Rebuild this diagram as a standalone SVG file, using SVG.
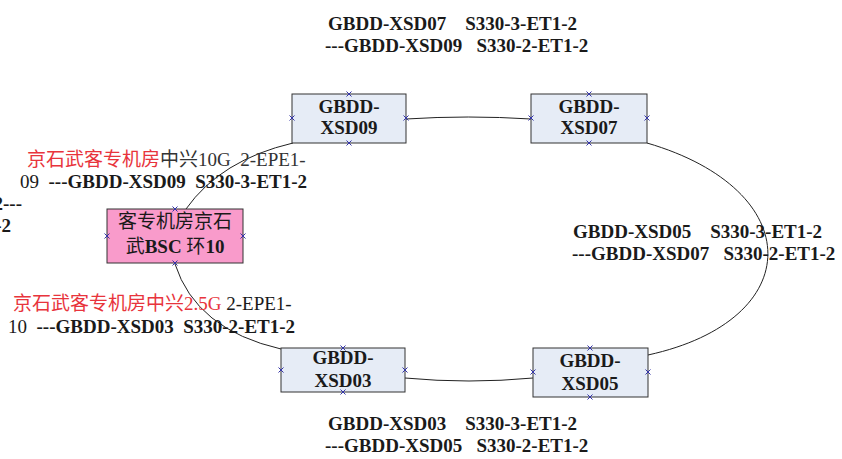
<svg xmlns="http://www.w3.org/2000/svg" xmlns:xlink="http://www.w3.org/1999/xlink" width="842" height="459" viewBox="0 0 842 459">
<style>
text{font-family:"Liberation Serif","Noto Sans CJK SC",serif;font-size:19px;fill:#1a1a1a}
.b{font-weight:bold}
.r{fill:#e8343c}
.box{fill:#e6ecf6;stroke:#333;stroke-width:1}
.pink{fill:#f99bcb;stroke:#333;stroke-width:1}
.nt{text-anchor:middle;font-weight:bold}
.conn{fill:none;stroke:#222;stroke-width:1}
</style>
<defs>
<path id="m" d="M-2.5,-2.5L2.5,2.5M-2.5,2.5L2.5,-2.5" stroke="#3434a8" stroke-width="1" fill="none"/>
</defs>
<rect width="842" height="459" fill="#fff"/>

<g id="connectors">
<path class="conn" d="M406,119 Q468,115 531,119"/>
<path class="conn" d="M647,143 C808,190 808,320 648,355"/>
<path class="conn" d="M405,378 Q469,384 533,378"/>
<path class="conn" d="M175,264 Q196,329.5 281,349"/>
<path class="conn" d="M186,209 Q220.5,160 293,143"/>
</g>

<g id="node-xsd09">
<rect class="box" x="292" y="94" width="114" height="49"/>
<text class="nt" x="349" y="113">GBDD-</text>
<text class="nt" x="349" y="134">XSD09</text>
<use xlink:href="#m" x="349" y="94"/><use xlink:href="#m" x="349" y="143"/><use xlink:href="#m" x="292" y="118"/><use xlink:href="#m" x="406" y="118"/>
</g>

<g id="node-xsd07">
<rect class="box" x="531" y="94" width="116" height="49"/>
<text class="nt" x="589" y="113">GBDD-</text>
<text class="nt" x="589" y="134">XSD07</text>
<use xlink:href="#m" x="589" y="94"/><use xlink:href="#m" x="589" y="143"/><use xlink:href="#m" x="531" y="118"/><use xlink:href="#m" x="647" y="118"/>
</g>

<g id="node-xsd03">
<rect class="box" x="281" y="348" width="124" height="44"/>
<text class="nt" x="343" y="364">GBDD-</text>
<text class="nt" x="343" y="387">XSD03</text>
<use xlink:href="#m" x="343" y="348"/><use xlink:href="#m" x="343" y="392"/><use xlink:href="#m" x="281" y="370"/><use xlink:href="#m" x="405" y="370"/>
</g>

<g id="node-xsd05">
<rect class="box" x="533" y="348" width="115" height="49"/>
<text class="nt" x="590" y="367">GBDD-</text>
<text class="nt" x="590" y="390">XSD05</text>
<use xlink:href="#m" x="590" y="348"/><use xlink:href="#m" x="590" y="397"/><use xlink:href="#m" x="533" y="372"/><use xlink:href="#m" x="648" y="372"/>
</g>

<g id="node-bsc">
<rect class="pink" x="107" y="209" width="136" height="54"/>
<text x="175" y="228" text-anchor="middle">客专机房京石</text>
<text x="175" y="253" text-anchor="middle" xml:space="preserve">武<tspan class="b">BSC </tspan>环<tspan class="b">10</tspan></text>
<use xlink:href="#m" x="175" y="209"/><use xlink:href="#m" x="175" y="263"/><use xlink:href="#m" x="107" y="236"/><use xlink:href="#m" x="243" y="236"/>
</g>

<g id="labels">
<text class="b" x="328" y="30" xml:space="preserve">GBDD-XSD07    S330-3-ET1-2</text>
<text class="b" x="325" y="52" xml:space="preserve">---GBDD-XSD09   S330-2-ET1-2</text>

<text class="b" x="573" y="238" xml:space="preserve">GBDD-XSD05    S330-3-ET1-2</text>
<text class="b" x="572" y="260" xml:space="preserve">---GBDD-XSD07   S330-2-ET1-2</text>

<text class="b" x="328" y="430" xml:space="preserve">GBDD-XSD03    S330-3-ET1-2</text>
<text class="b" x="325" y="452" xml:space="preserve">---GBDD-XSD05   S330-2-ET1-2</text>

<text x="27" y="166" xml:space="preserve"><tspan class="r">京石武客专机房</tspan><tspan fill="#333">中兴10G  2-EPE1-</tspan></text>
<text x="20" y="188" xml:space="preserve">09  <tspan class="b">---GBDD-XSD09  S330-3-ET1-2</tspan></text>

<text x="13" y="310" xml:space="preserve"><tspan class="r">京石武客专机房中兴2.5G</tspan> 2-EPE1-</text>
<text x="8" y="333" xml:space="preserve">10  <tspan class="b">---GBDD-XSD03  S330-2-ET1-2</tspan></text>

<text class="b" x="22" y="210" text-anchor="end">2---</text>
<text class="b" x="11" y="232" text-anchor="end">-2</text>
</g>
</svg>
